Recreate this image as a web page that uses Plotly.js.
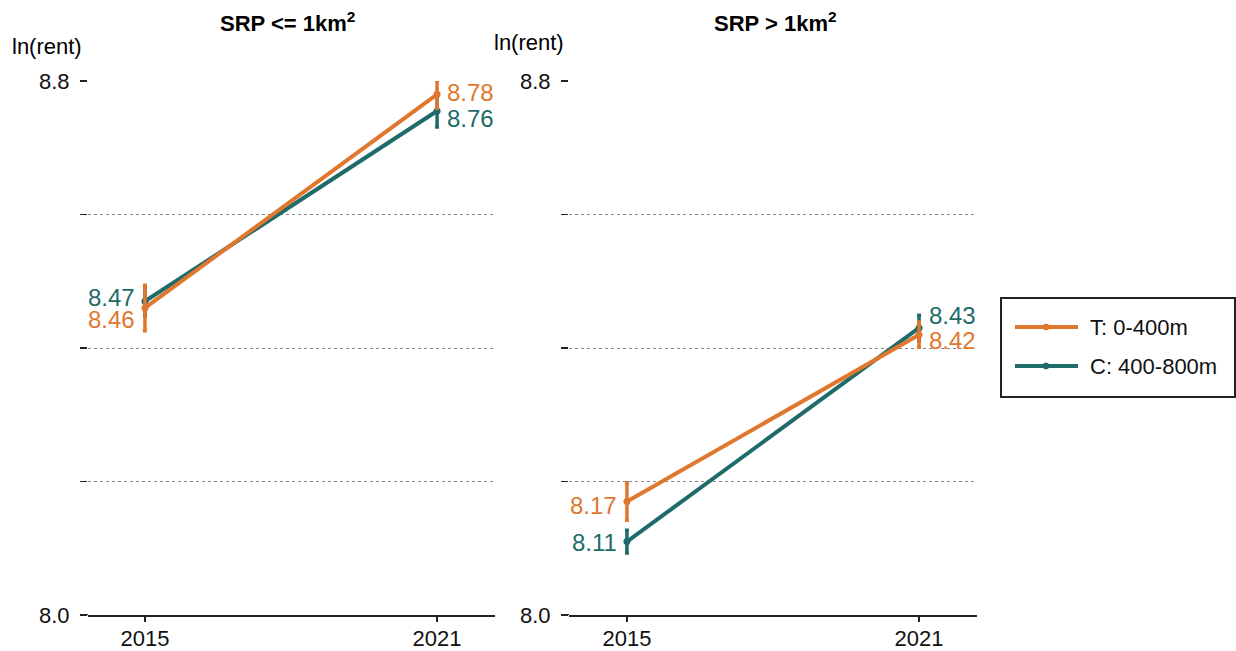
<!DOCTYPE html>
<html>
<head>
<meta charset="utf-8">
<script src="https://cdn.plot.ly/plotly-3.0.1.min.js"></script>
<style>html,body{margin:0;padding:0;background:#fff;}#chart{width:1236px;height:651px;}</style>
</head>
<body>
<div id="chart"></div>
<script>
// ---- data ----
const years = [2015, 2021];
const panelTitles = ["SRP &lt;= 1km<sup>2</sup>", "SRP &gt; 1km<sup>2</sup>"];
const seriesNames = ["T: 0-400m", "C: 400-800m"];
// panel 1 (SRP <= 1km2)
const p1_T = [8.46, 8.78];
const p1_T_err = [0.034, 0.021];
const p1_C = [8.47, 8.755];
const p1_C_err = [0.021, 0.024];
// panel 2 (SRP > 1km2)
const p2_T = [8.17, 8.42];
const p2_T_err = [0.028, 0.019];
const p2_C = [8.11, 8.43];
const p2_C_err = [0.017, 0.019];
const yTickVals = [8.0, 8.2, 8.4, 8.6, 8.8];
const yTickText = ["8.0", "", "", "", "8.8"];

const ORANGE = "#E0772F";
const TEAL = "#1E6B6A";
const FONT = "'Liberation Sans', Arial, sans-serif";
const W = 1236, H = 651;
const px = v => v / W, py = v => 1 - v / H;

function tr(y, err, name, color, xa, ya) {
  return {
    x: years, y: y, name: name, xaxis: xa, yaxis: ya,
    type: "scatter", mode: "lines+markers",
    line: {color: color, width: 4},
    marker: {color: color, size: 7},
    error_y: {type: "data", array: err, visible: true, color: color, thickness: 3.5, width: 2},
    showlegend: false, cliponaxis: false
  };
}

const data = [
  tr(p1_C, p1_C_err, seriesNames[1], TEAL, "x", "y"),
  tr(p1_T, p1_T_err, seriesNames[0], ORANGE, "x", "y"),
  tr(p2_C, p2_C_err, seriesNames[1], TEAL, "x2", "y2"),
  tr(p2_T, p2_T_err, seriesNames[0], ORANGE, "x2", "y2")
];

function lab(xa, ya, xi, y, color, yshift) {
  return {
    xref: xa, yref: ya, x: years[xi], y: y, text: y.toFixed(2),
    showarrow: false, xanchor: xi === 0 ? "right" : "left",
    xshift: xi === 0 ? -8 : 8, yshift: yshift,
    font: {family: FONT, size: 24, color: color}
  };
}

const annotations = [
  lab("x", "y", 0, p1_C[0], TEAL, 4),
  lab("x", "y", 0, p1_T[0], ORANGE, -12),
  lab("x", "y", 1, p1_T[1], ORANGE, 2),
  lab("x", "y", 1, p1_C[1], TEAL, -7),
  lab("x2", "y2", 0, p2_T[0], ORANGE, -4),
  lab("x2", "y2", 0, p2_C[0], TEAL, -1),
  lab("x2", "y2", 1, p2_C[1], TEAL, 12),
  lab("x2", "y2", 1, p2_T[1], ORANGE, -6),
  {xref: "paper", yref: "paper", x: px(287), y: py(22), text: "<b>" + panelTitles[0] + "</b>",
   showarrow: false, xanchor: "center", yanchor: "middle", font: {family: FONT, size: 22, color: "#000"}},
  {xref: "paper", yref: "paper", x: px(775), y: py(22), text: "<b>" + panelTitles[1] + "</b>",
   showarrow: false, xanchor: "center", yanchor: "middle", font: {family: FONT, size: 22, color: "#000"}},
  {xref: "paper", yref: "paper", x: px(10), y: py(47), text: "ln(rent)",
   showarrow: false, xanchor: "left", yanchor: "middle", font: {family: FONT, size: 22, color: "#000"}},
  {xref: "paper", yref: "paper", x: px(492), y: py(43), text: "ln(rent)",
   showarrow: false, xanchor: "left", yanchor: "middle", font: {family: FONT, size: 22, color: "#000"}},
  // legend texts
  {xref: "paper", yref: "paper", x: px(1088), y: py(327), text: seriesNames[0],
   showarrow: false, xanchor: "left", yanchor: "middle", font: {family: FONT, size: 22, color: "#111"}},
  {xref: "paper", yref: "paper", x: px(1088), y: py(366), text: seriesNames[1],
   showarrow: false, xanchor: "left", yanchor: "middle", font: {family: FONT, size: 22, color: "#111"}}
];

const shapes = [
  // legend box
  {type: "rect", xref: "paper", yref: "paper", x0: px(1001), x1: px(1235), y0: py(298), y1: py(397),
   line: {color: "#222", width: 2}, fillcolor: "rgba(0,0,0,0)"},
  {type: "line", xref: "paper", yref: "paper", x0: px(1015), x1: px(1078), y0: py(327), y1: py(327),
   line: {color: ORANGE, width: 4}},
  {type: "circle", xref: "paper", yref: "paper", x0: px(1043), x1: px(1049), y0: py(324), y1: py(330),
   line: {color: ORANGE, width: 1}, fillcolor: ORANGE},
  {type: "line", xref: "paper", yref: "paper", x0: px(1015), x1: px(1078), y0: py(366), y1: py(366),
   line: {color: TEAL, width: 4}},
  {type: "circle", xref: "paper", yref: "paper", x0: px(1043), x1: px(1049), y0: py(363), y1: py(369),
   line: {color: TEAL, width: 1}, fillcolor: TEAL},
  // x-axis line extensions to the left of the y ticks
  {type: "line", xref: "paper", yref: "y", x0: px(80), x1: px(88), y0: 8.0, y1: 8.0, line: {color: "#222", width: 2}},
  {type: "line", xref: "paper", yref: "y2", x0: px(563), x1: px(569), y0: 8.0, y1: 8.0, line: {color: "#222", width: 2}}
];

function xax(domain, rng) {
  return {
    domain: domain, range: rng, tickvals: years, ticktext: years.map(String),
    showline: true, linecolor: "#222", linewidth: 2, ticks: "outside", ticklen: 5, tickwidth: 1.5, tickcolor: "#222",
    showgrid: false, zeroline: false, tickfont: {family: FONT, size: 22, color: "#111"},
    ticklabelstandoff: -2, fixedrange: true
  };
}
function yax(anchor) {
  return {
    anchor: anchor, domain: [1 - 615/651, 1 - 81/651], range: [8.0, 8.8],
    tickvals: yTickVals, ticktext: yTickText, ticks: "outside", ticklen: 7, tickwidth: 1.5, tickcolor: "#222",
    showline: false, zeroline: false, showgrid: true, gridcolor: "#888", griddash: "dot", gridwidth: 1,
    tickfont: {family: FONT, size: 22, color: "#111"}, ticklabelstandoff: 6, fixedrange: true
  };
}

const layout = {
  width: W, height: H,
  margin: {l: 0, r: 0, t: 0, b: 0},
  paper_bgcolor: "#fff", plot_bgcolor: "#fff",
  font: {family: FONT, color: "#111"},
  xaxis: xax([px(88), px(495)], [2013.83, 2022.19]),
  xaxis2: xax([px(569), px(977)], [2013.81, 2022.19]),
  yaxis: yax("x"),
  yaxis2: yax("x2"),
  annotations: annotations,
  shapes: shapes,
  showlegend: false
};

Plotly.newPlot("chart", data, layout, {staticPlot: true, displayModeBar: false});
</script>
</body>
</html>
